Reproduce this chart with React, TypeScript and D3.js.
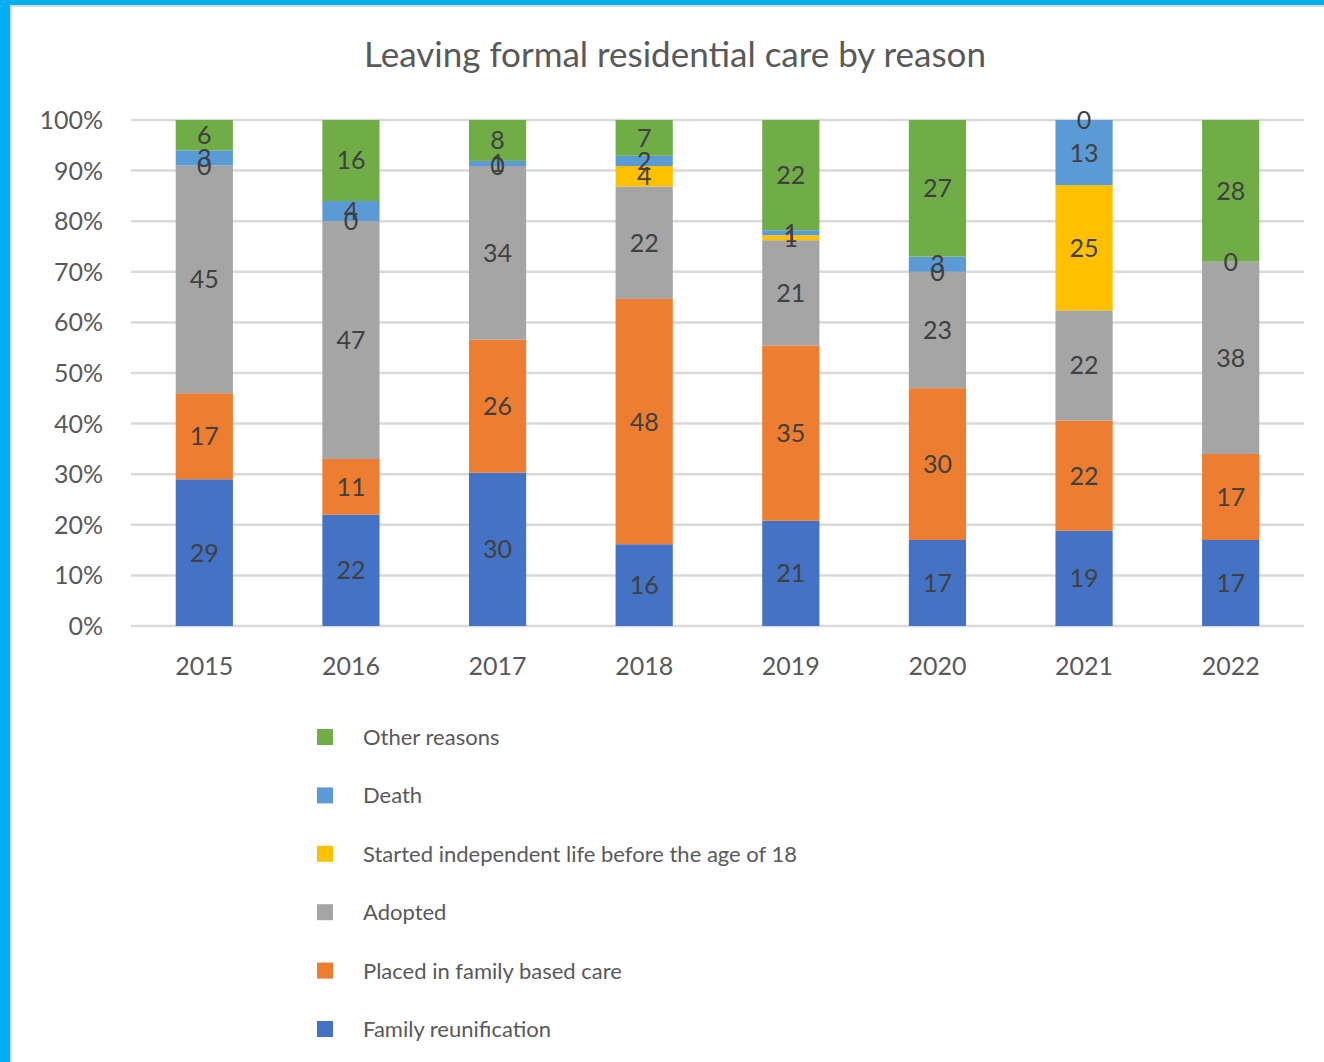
import { useEffect, useRef } from "react";
import * as d3 from "d3";

const years = ["2015", "2016", "2017", "2018", "2019", "2020", "2021", "2022"];

const seriesNames = [
  "Family reunification",
  "Placed in family based care",
  "Adopted",
  "Started independent life before the age of 18",
  "Death",
  "Other reasons",
];

const familyReunification = [29, 22, 30, 16, 21, 17, 19, 17];
const familyBasedCare = [17, 11, 26, 48, 35, 30, 22, 17];
const adopted = [45, 47, 34, 22, 21, 23, 22, 38];
const independentLife = [0, 0, 0, 4, 1, 0, 25, null];
const death = [3, 4, 1, 2, 1, 3, 13, 0];
const otherReasons = [6, 16, 8, 7, 22, 27, 0, 28];

const seriesValues = [familyReunification, familyBasedCare, adopted, independentLife, death, otherReasons];
const seriesColors = ["#4472C4", "#ED7D31", "#A5A5A5", "#FFC000", "#5B9BD5", "#70AD47"];

const yTicks = [0, 0.1, 0.2, 0.3, 0.4, 0.5, 0.6, 0.7, 0.8, 0.9, 1];

const FONT = "Lato, 'Open Sans', sans-serif";

export default function App() {
  const ref = useRef<SVGSVGElement | null>(null);

  useEffect(() => {
    if (!ref.current) return;
    const width = 1324;
    const height = 1062;
    const svg = d3.select(ref.current).attr("width", width).attr("height", height);
    svg.selectAll("*").remove();

    // frame: blue edge on left and top, thin grey line inside
    svg.append("rect").attr("width", width).attr("height", height).attr("fill", "#ffffff");
    svg.append("rect").attr("x", 0).attr("y", 0).attr("width", 10).attr("height", height).attr("fill", "#00B0F0");
    svg.append("rect").attr("x", 0).attr("y", 0).attr("width", width).attr("height", 5).attr("fill", "#00B0F0");
    svg.append("rect").attr("x", 10).attr("y", 5).attr("width", 2).attr("height", height).attr("fill", "#D9D9D9");
    svg.append("rect").attr("x", 10).attr("y", 5).attr("width", width).attr("height", 2).attr("fill", "#D9D9D9");

    const plot = { left: 131, right: 1304, top: 120, bottom: 626 };

    const table = years.map((year, i) => {
      const row: Record<string, any> = { year };
      seriesNames.forEach((name, s) => {
        row[name] = seriesValues[s][i] ?? 0;
      });
      return row;
    });

    const stacked = d3.stack<any>().keys(seriesNames).offset(d3.stackOffsetExpand)(table);

    const x = d3.scaleBand().domain(years).range([plot.left, plot.right]).paddingInner(0.61).paddingOuter(0.305);
    const y = d3.scaleLinear().domain([0, 1]).range([plot.bottom, plot.top]);

    // title
    svg
      .append("text")
      .attr("x", 675)
      .attr("y", 67)
      .attr("text-anchor", "middle")
      .attr("font-family", FONT)
      .attr("font-size", 35)
      .attr("fill", "#595959")
      .text("Leaving formal residential care by reason");

    // gridlines
    svg
      .append("g")
      .selectAll("line")
      .data(yTicks)
      .join("line")
      .attr("x1", plot.left)
      .attr("x2", plot.right)
      .attr("y1", (d) => y(d))
      .attr("y2", (d) => y(d))
      .attr("stroke", "#D9D9D9")
      .attr("stroke-width", 2.5);

    // y tick labels
    svg
      .append("g")
      .selectAll("text")
      .data(yTicks)
      .join("text")
      .attr("x", 103)
      .attr("y", (d) => y(d) + 9)
      .attr("text-anchor", "end")
      .attr("font-family", FONT)
      .attr("font-size", 25)
      .attr("fill", "#595959")
      .text((d) => d3.format(".0%")(d));

    // x labels
    svg
      .append("g")
      .selectAll("text")
      .data(years)
      .join("text")
      .attr("x", (d) => (x(d) ?? 0) + x.bandwidth() / 2)
      .attr("y", 675)
      .attr("text-anchor", "middle")
      .attr("font-family", FONT)
      .attr("font-size", 25)
      .attr("fill", "#595959")
      .text((d) => d);

    // bars
    const layers = svg
      .append("g")
      .selectAll("g")
      .data(stacked)
      .join("g")
      .attr("fill", (_d, i) => seriesColors[i]);

    layers
      .selectAll("rect")
      .data((d) => d)
      .join("rect")
      .attr("x", (d) => x(d.data.year) ?? 0)
      .attr("y", (d) => y(d[1]))
      .attr("width", x.bandwidth())
      .attr("height", (d) => Math.max(0, y(d[0]) - y(d[1])));

    // data labels
    const labels: { x: number; y: number; text: string }[] = [];
    stacked.forEach((layer, s) => {
      layer.forEach((d, i) => {
        const v = seriesValues[s][i];
        if (v === null || v === undefined) return;
        labels.push({
          x: (x(years[i]) ?? 0) + x.bandwidth() / 2,
          y: (y(d[0]) + y(d[1])) / 2,
          text: String(v),
        });
      });
    });

    svg
      .append("g")
      .selectAll("text")
      .data(labels)
      .join("text")
      .attr("x", (d) => d.x)
      .attr("y", (d) => d.y + 9)
      .attr("text-anchor", "middle")
      .attr("font-family", FONT)
      .attr("font-size", 25)
      .attr("fill", "#404040")
      .text((d) => d.text);

    // legend, top to bottom in reverse series order
    const legendOrder = d3.range(seriesNames.length).reverse();
    const legend = svg
      .append("g")
      .selectAll("g")
      .data(legendOrder)
      .join("g")
      .attr("transform", (_d, i) => `translate(317, ${737 + i * 58.4})`);

    legend
      .append("rect")
      .attr("x", 0)
      .attr("y", -8)
      .attr("width", 16)
      .attr("height", 16)
      .attr("fill", (d) => seriesColors[d]);

    legend
      .append("text")
      .attr("x", 46)
      .attr("y", 8)
      .attr("font-family", FONT)
      .attr("font-size", 22)
      .attr("fill", "#595959")
      .text((d) => seriesNames[d]);
  }, []);

  return <svg ref={ref} style={{ position: "absolute", left: 0, top: 0, display: "block" }} />;
}
